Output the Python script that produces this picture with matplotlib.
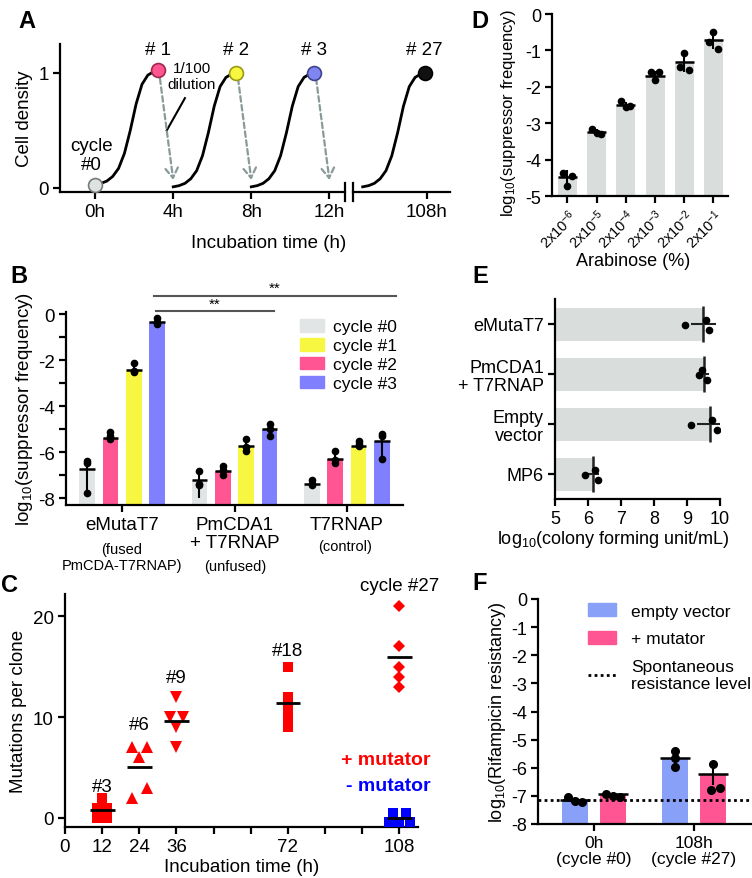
import numpy as np
import matplotlib
matplotlib.use("Agg")
import matplotlib.pyplot as plt
from matplotlib.patches import Patch
from matplotlib.lines import Line2D

# ─── DATA ────────────────────────────────────────────────────────────────────
# A: schematic growth curve (hours after dilution, relative cell density)
GROWTH_T = [0.0, 0.3, 0.6, 0.9, 1.2, 1.5, 1.8, 2.1, 2.4, 2.7, 3.0, 3.2]
GROWTH_OD = [0.03, 0.04, 0.06, 0.10, 0.17, 0.30, 0.50, 0.73, 0.90, 0.98, 1.01, 1.02]
CYCLE_START = [0, 4, 8, 104.7]
CYCLE_TAGS = ["# 1", "# 2", "# 3", "# 27"]
DILUTE_AT = [4, 8, 12]
A_TICKS = [0, 4, 8, 12]
A_TICKLABELS = ["0h", "4h", "8h", "12h"]

# B: suppressor frequency per cycle
B_GROUPS = ["eMutaT7", "PmCDA1\n+ T7RNAP", "T7RNAP"]
B_NOTES = ["(fused\nPmCDA-T7RNAP)", "(unfused)", "(control)"]
B_CYCLES = ["cycle #0", "cycle #1", "cycle #2", "cycle #3"]
B_MEAN = [[-6.72, -5.38, -2.42, -0.36],
          [-7.22, -6.83, -5.75, -5.00],
          [-7.40, -6.29, -5.75, -5.52]]
B_ERR_DN = [[1.15, 0.10, 0.12, 0.08],
            [0.78, 0.20, 0.34, 0.29],
            [0.14, 0.23, 0.08, 0.87]]
B_ERR_UP = [[0.40, 0.22, 0.28, 0.17],
            [0.40, 0.35, 0.39, 0.29],
            [0.28, 0.42, 0.25, 0.36]]
B_DOTS = [[[-6.38, -6.48, -7.78], [-5.14, -5.32, -5.42], [-2.14, -2.46, -2.52], [-0.19, -0.36, -0.42]],
          [[-6.81, -7.39, -7.45], [-6.60, -6.80, -7.00], [-5.45, -5.80, -5.95], [-4.78, -5.00, -5.29]],
          [[-7.20, -7.38, -7.45], [-5.94, -6.35, -6.48], [-5.50, -5.65, -5.75], [-5.22, -5.28, -6.30]]]
B_SIG = [("**", 0.30, 1.35, 0.14), ("**", 0.28, 2.44, 0.80)]

# C: mutations per clone
C_TIMES = [12, 24, 36, 72, 108]
C_TAGS = ["#3", "#6", "#9", "#18", "cycle #27"]
C_TAG_Y = [3.1, 9.3, 13.9, 16.6, 23.0]
C_MARKERS = ["s", "^", "v", "s", "D"]
C_VALUES = [[2, 1, 1, 0, 0], [7, 7, 6, 3, 2], [12, 10, 10, 9, 7],
            [15, 12, 11, 10, 9], [21, 17, 15, 14, 13]]
C_CTRL = [0.5, 0.5, -0.4, -0.4, -0.4]
C_XTICKS = list(range(0, 109, 12))
C_XLABELS = ["0", "12", "24", "36", "", "", "72", "", "", "108"]

# D: arabinose titration
D_LABELS = ["2x10$^{-6}$", "2x10$^{-5}$", "2x10$^{-4}$",
            "2x10$^{-3}$", "2x10$^{-2}$", "2x10$^{-1}$"]
D_MEAN = [-4.49, -3.23, -2.49, -1.69, -1.31, -0.72]
D_ERR = [0.20, 0.07, 0.08, 0.12, 0.28, 0.25]
D_DOTS = [[-4.37, -4.72, -4.45], [-3.16, -3.28, -3.30], [-2.38, -2.56, -2.53],
          [-1.59, -1.82, -1.60], [-1.45, -1.07, -1.55], [-0.76, -0.50, -0.95]]

# E: viability
E_LABELS = ["eMutaT7", "PmCDA1\n+ T7RNAP", "Empty\nvector", "MP6"]
E_MEAN = [9.49, 9.50, 9.69, 6.14]
E_ERR = [0.38, 0.17, 0.40, 0.20]
E_DOTS = [[8.93, 9.57, 9.67], [9.35, 9.45, 9.62], [9.11, 9.75, 9.90], [5.91, 6.22, 6.30]]

# F: rifampicin resistance
F_GROUPS = ["0h\n(cycle #0)", "108h\n(cycle #27)"]
F_SERIES = ["empty vector", "+ mutator"]
F_MEAN = [[-7.13, -5.67], [-6.95, -6.21]]
F_ERR = [[0.07, 0.27], [0.05, 0.42]]
F_DOTS = [[[-7.05, -7.17, -7.22], [-5.40, -5.67, -5.97]],
          [[-6.93, -7.02, -7.03], [-5.85, -6.72, -6.80]]]
F_SPONT = -7.14

# ─── STYLE ───────────────────────────────────────────────────────────────────
W, H = 752, 879
GRAY, YELLOW, PINK, BLUE = "#e1e5e5", "#f7f742", "#ff5592", "#8080ff"
FBLUE = "#88a0f8"
BARGRAY = "#d9dedd"
ARROW = "#8a9a9a"
plt.rcParams.update({
    "font.family": ["Liberation Sans", "DejaVu Sans"],
    "mathtext.fontset": "custom",
    "mathtext.rm": "Liberation Sans",
    "mathtext.it": "Liberation Sans:italic",
    "mathtext.bf": "Liberation Sans:bold",
    "axes.unicode_minus": False,
    "axes.linewidth": 1.6,
    "xtick.major.width": 1.6, "ytick.major.width": 1.6,
    "xtick.minor.width": 1.6, "ytick.minor.width": 1.6,
    "xtick.major.size": 5, "ytick.major.size": 5,
    "xtick.minor.size": 5, "ytick.minor.size": 5,
    "xtick.major.pad": 3, "ytick.major.pad": 3,
})

fig = plt.figure(figsize=(W / 100, H / 100), dpi=100)


def px_axes(l, t, r, b):
    ax = fig.add_axes([l / W, 1 - b / H, (r - l) / W, (b - t) / H])
    ax.spines[["top", "right"]].set_visible(False)
    ax.patch.set_alpha(0)
    return ax


def ftext(x, y, s, **kw):
    kw.setdefault("ha", "center")
    kw.setdefault("va", "center")
    fig.text(x / W, 1 - y / H, s, **kw)


# ─── A ───────────────────────────────────────────────────────────────────────
axA = px_axes(60, 45, 345, 193)
axA2 = px_axes(353, 45, 450, 193)
for ax, lo, hi in ((axA, -1.8, 12.8), (axA2, 104.2, 109.2)):
    ax.set_xlim(lo, hi)
    ax.set_ylim(-0.035, 1.25)
    ax.tick_params(labelsize=13.5)
axA2.spines["left"].set_visible(False)
axA2.set_yticks([])
axA.set_yticks([0, 1])
axA.set_xticks(A_TICKS)
axA.set_xticklabels(A_TICKLABELS)
axA2.set_xticks([108])
axA2.set_xticklabels(["108h"])
axA.set_ylabel("Cell density", fontsize=13.5, labelpad=4)
for ax, xb in ((axA, 1), (axA2, 0)):
    ax.plot([xb, xb], [-0.06, 0.06], transform=ax.transAxes, color="k",
            lw=1.6, clip_on=False)

end_face = [PINK, YELLOW, "#7f86f0", "#111111"]
end_edge = ["#a02848", "#9a9a10", "#40448a", "#000000"]
axA.plot(GROWTH_T[0], GROWTH_OD[0], "o", ms=10, mfc="#dde2e2", mec="#7a7a7a",
         mew=1.2, clip_on=False, zorder=5)
for i, t0 in enumerate(CYCLE_START):
    ax = axA if t0 < 20 else axA2
    t = np.add(t0, GROWTH_T)
    od = np.array(GROWTH_OD) - (0.02 if i else 0)
    ax.plot(t, od, color="k", lw=2)
    ax.plot(t[-1], od[-1], "o", ms=10, mfc=end_face[i], mec=end_edge[i],
            mew=1.2, clip_on=False, zorder=5)
    ax.text(t[-1], 1.2, CYCLE_TAGS[i], ha="center", va="center", fontsize=13.5)
for i, td in enumerate(DILUTE_AT):
    t_end = CYCLE_START[i] + GROWTH_T[-1]
    axA.annotate("", xy=(td, 0.07), xytext=(t_end + 0.12, 0.95),
                 arrowprops=dict(arrowstyle="->,head_length=0.7,head_width=0.45",
                                 color=ARROW, lw=1.6, ls=(0, (2.5, 1.5)),
                                 shrinkA=0, shrinkB=0))
axA.text(4.95, 0.97, "1/100\ndilution", ha="center", va="center",
         fontsize=11, linespacing=1.15)
axA.plot([4.6, 3.67], [0.78, 0.5], color="k", lw=1.5)
axA.text(-0.17, 0.29, "cycle\n#0", ha="center", va="center",
         fontsize=13.5, linespacing=1.15)
ftext(269, 244, "Incubation time (h)", fontsize=13.5)

# ─── B ───────────────────────────────────────────────────────────────────────
axB = px_axes(66, 313, 403, 506)
axB.set_xlim(-0.5, 2.5)
axB.set_ylim(-8.3, 0.09)
bar_colors = [GRAY, PINK, YELLOW, BLUE]
offsets = [-0.312, -0.104, 0.104, 0.312]
bw = 0.14
for g in range(len(B_GROUPS)):
    for k in range(4):
        x = g + offsets[k]
        m = B_MEAN[g][k]
        axB.bar(x, m + 8.3, bottom=-8.3, width=bw, color=bar_colors[k], lw=0)
        axB.hlines(m, x - bw / 2, x + bw / 2, color="k", lw=1.8)
        axB.vlines(x, m - B_ERR_DN[g][k], m + B_ERR_UP[g][k], color="k", lw=1.5)
        axB.plot([x] * 3, B_DOTS[g][k], "o", color="k", ms=4.5, clip_on=False)
axB.set_yticks([0, -2, -4, -6, -8])
axB.set_yticks([-1, -3, -5, -7], minor=True)
axB.set_xticks(range(len(B_GROUPS)))
axB.set_xticklabels(B_GROUPS, fontsize=13.5, linespacing=1.1)
axB.tick_params(axis="y", labelsize=13.5)
axB.set_ylabel("log$_{10}$(suppressor frequency)", fontsize=13.5, labelpad=2)
for star, x0, x1, y in B_SIG:
    axB.plot([x0, x1], [y, y], color="#555555", lw=1.5, clip_on=False)
    axB.text((x0 + x1) / 2, y + 0.02, star, ha="center", va="bottom",
             fontsize=11, clip_on=False)
leg_colors = [GRAY, YELLOW, PINK, BLUE]
axB.legend([Patch(color=c) for c in leg_colors], B_CYCLES, loc="upper left",
           bbox_to_anchor=(300 / W, 1 - 320 / H), bbox_transform=fig.transFigure,
           frameon=False, fontsize=12.5, handlelength=1.4, handleheight=0.75,
           handletextpad=0.5, labelspacing=0.2, borderpad=0, borderaxespad=0)
ftext(122, 558, B_NOTES[0], fontsize=10.5, linespacing=1.15)
ftext(235, 567, B_NOTES[1], fontsize=10.5)
ftext(345, 547, B_NOTES[2], fontsize=10.5)

# ─── C ───────────────────────────────────────────────────────────────────────
axC = px_axes(65, 595, 418, 828)
axC.set_xlim(0, 114)
axC.set_ylim(-0.9, 22.2)
c_dx = [[0, -1.6, 1.6, -1.6, 1.6], [-2.4, 2.4, 0, 2.4, -2.4],
        [0, -2.1, 2.1, 0, 0], [0, 0, 0, 0, 0], [0, 0, 0, 0, 0]]
c_ms = [7, 9, 9, 7, 6.5]
for i, t in enumerate(C_TIMES):
    axC.plot(np.add(t, c_dx[i]), C_VALUES[i], C_MARKERS[i], color="#ff0000",
             ms=c_ms[i], mew=0, clip_on=False)
    axC.hlines(np.mean(C_VALUES[i]), t - 4, t + 4, color="k", lw=2, zorder=4)
    axC.text(t, C_TAG_Y[i], C_TAGS[i], ha="center", va="center",
             fontsize=13.5, clip_on=False)
axC.plot(np.add(108, [-2.1, 2.1, -3.4, 0, 3.4]), C_CTRL, "s", color="#0000ff",
         ms=7, mew=0, zorder=3)
axC.hlines(0, 104, 112, color="k", lw=2, zorder=4)
axC.set_xticks(C_XTICKS)
axC.set_xticklabels(C_XLABELS)
axC.set_yticks([0, 10, 20])
axC.tick_params(labelsize=13.5)
axC.set_ylabel("Mutations per clone", fontsize=13.5, labelpad=4)
axC.set_xlabel("Incubation time (h)", fontsize=13.5, labelpad=2)
ftext(431, 761, "+ mutator", color="#ff0000", fontsize=14, fontweight="bold",
      ha="right")
ftext(431, 787, "- mutator", color="#0000ff", fontsize=14, fontweight="bold",
      ha="right")

# ─── D ───────────────────────────────────────────────────────────────────────
axD = px_axes(552, 15, 728, 197)
axD.set_xlim(-0.53, 5.5)
axD.set_ylim(-5, 0)
jit = [-0.15, 0.0, 0.15]
for i, m in enumerate(D_MEAN):
    axD.bar(i, m + 5, bottom=-5, width=0.65, color=BARGRAY, lw=0)
    axD.hlines(m, i - 0.33, i + 0.33, color="k", lw=1.8)
    axD.vlines(i, m - D_ERR[i], m + D_ERR[i], color="k", lw=1.5)
    axD.plot(np.add(i, jit), D_DOTS[i], "o", color="k", ms=4.5)
axD.set_xticks(range(len(D_LABELS)))
axD.set_xticklabels(D_LABELS, rotation=45, ha="right", rotation_mode="anchor",
                    fontsize=10.5)
axD.tick_params(axis="x", pad=2)
axD.set_yticks(range(-5, 1))
axD.tick_params(axis="y", labelsize=13)
ftext(509, 113, "log$_{10}$(suppressor frequency)", fontsize=12, rotation=90)
ftext(633, 262, "Arabinose (%)", fontsize=13)

# ─── E ───────────────────────────────────────────────────────────────────────
axE = px_axes(555, 300, 720, 500)
axE.set_xlim(5, 10)
axE.set_ylim(3.5, -0.5)
jy = [0.02, -0.08, 0.12]
for i, m in enumerate(E_MEAN):
    axE.barh(i, m - 5, left=5, height=0.66, color=BARGRAY, lw=0)
    axE.vlines(m, i - 0.36, i + 0.36, color="#222222", lw=1.8)
    axE.hlines(i, m - E_ERR[i], m + E_ERR[i], color="#222222", lw=1.5)
    axE.plot(E_DOTS[i], np.add(i, jy), "o", color="k", ms=4.5)
axE.set_yticks(range(len(E_LABELS)))
axE.set_yticklabels(E_LABELS, linespacing=1.1)
axE.set_xticks(range(5, 11))
axE.tick_params(labelsize=13)
ftext(613, 540, "log$_{10}$(colony forming unit/mL)", fontsize=13)

# ─── F ───────────────────────────────────────────────────────────────────────
axF = px_axes(538, 600, 751, 825)
axF.set_xlim(-0.56, 1.57)
axF.set_ylim(-8, 0)
f_colors = [FBLUE, PINK]
f_off = [-0.19, 0.19]
fw = 0.26
f_jit = [[[-0.07, 0.0, 0.07], [0, 0, 0]], [[-0.07, 0.0, 0.07], [0, 0.07, -0.02]]]
for s in range(2):
    for g in range(2):
        x = g + f_off[s]
        m = F_MEAN[s][g]
        axF.bar(x, m + 8, bottom=-8, width=fw, color=f_colors[s], lw=0)
        axF.hlines(m, x - fw / 2 - 0.02, x + fw / 2 + 0.02, color="k", lw=1.8)
        axF.vlines(x, m - F_ERR[s][g], m + F_ERR[s][g], color="k", lw=1.5)
        axF.plot(np.add(x, f_jit[s][g]), F_DOTS[s][g], "o", color="k", ms=5.5)
axF.axhline(F_SPONT, color="k", lw=2, ls=(0, (1, 1.2)))
axF.set_xticks([0, 1])
axF.set_xticklabels(F_GROUPS, fontsize=12.5, linespacing=1.05)
axF.set_yticks(range(-8, 1))
axF.tick_params(axis="y", labelsize=13)
axF.set_ylabel("log$_{10}$(Rifampicin resistancy)", fontsize=13, labelpad=2)
handles = [Patch(color=FBLUE), Patch(color=PINK),
           Line2D([], [], color="k", lw=2, ls=(0, (1, 1.2)))]
axF.legend(handles, F_SERIES + ["Spontaneous\nresistance level"],
           loc="upper left", bbox_to_anchor=(588 / W, 1 - 604 / H),
           bbox_transform=fig.transFigure, frameon=False, fontsize=12.5,
           handlelength=1.6, handleheight=0.8, handletextpad=0.9,
           labelspacing=0.7, borderpad=0, borderaxespad=0)

# ─── PANEL LETTERS ───────────────────────────────────────────────────────────
for letter, x, y in (("A", 27, 22), ("B", 19, 277), ("C", 10, 585),
                     ("D", 480, 22), ("E", 480, 277), ("F", 480, 583)):
    ftext(x, y, letter, fontsize=17, fontweight="bold")

fig.savefig("out.png", dpi=100)
